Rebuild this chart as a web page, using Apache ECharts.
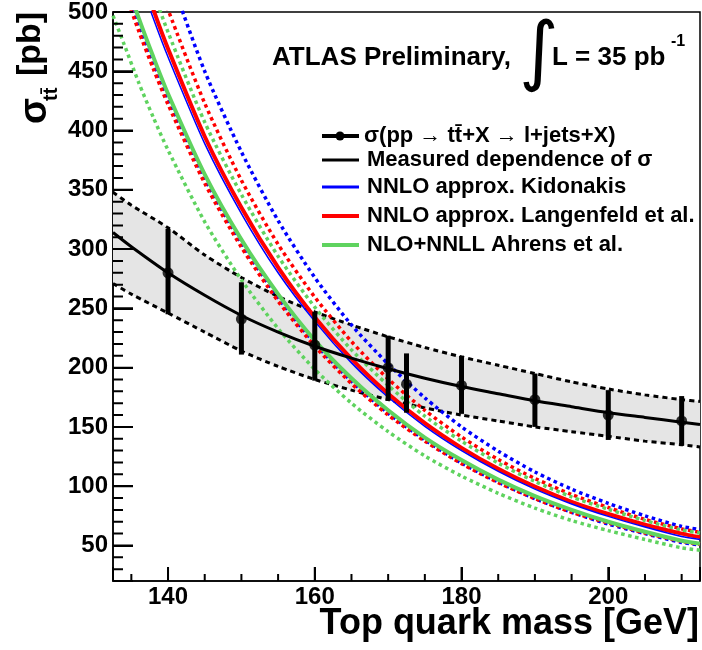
<!DOCTYPE html>
<html><head><meta charset="utf-8">
<script src="https://cdn.jsdelivr.net/npm/echarts@6/dist/echarts.min.js"></script>
<style>html,body{margin:0;padding:0;background:#fff}#c{width:702px;height:650px}</style>
</head><body><div id="c"></div>
<script>
// ---- data ----
const massGrid = [132.5,134,136,138,140,145,150,155,160,165,170,175,180,185,190,195,200,205,210,212.5];
const kidonakis     = [599,568,530,494.5,462,389,330,280,239,204,175,150.5,130,112.5,97.5,85,74.5,65.5,57.5,55];
const kidonakisUp   = [693,658,613,572,535,450,382,324,276,236,203,174.5,150,129.5,112,97.5,85.5,75,66,63.5];
const kidonakisDown = [553,525,490,457,427,359.5,305,259,220.5,188.5,161.5,139,119.5,103.5,89.5,78,68,60,52.5,50.5];
const langenfeld     = [608,577,538,502,469,395,335,284.5,242.5,207.4,178,153.1,132.3,114.6,99.6,86.8,76.5,67.5,60,57];
const langenfeldUp   = [651,617,576,537,502,423,358,304,259.5,222,190.5,164,141.5,122.5,106.5,93,82,72,64,61];
const langenfeldDown = [547,519,484,452,422,355.5,301.5,256,218,186.5,160,138,119,103,89.5,78,69,60.5,53.5,51];
const ahrens     = [559,531,495,462,431,363,308,262,223,191,164,141,122,105.5,91.6,80,70,61.5,54,51.5];
const ahrensUp   = [626,594,554,517,483,407,346,294,251,215,185,159,138,119.5,104,91,80.5,71,63,60.5];
const ahrensDown = [497,473,440.5,411,383.5,323,274,233,198.5,170,146,125.5,108.5,94,81.5,71,62.5,55,48,46];

const measMass = [132.5,135,140,145,150,155,160,165,170,175,180,185,190,195,200,205,210,212.5];
const measFit  = [314,302,280,261,244,230,218,208,199,191,184,178,172,167,162,158,154,152];
const bandUp   = [348,337,318,295,276,260,247,236,226,217,209,202,195,188,182,177,173,171.5];
const bandDown = [271,262,246,230,214,201,190,181,173,166,160,155,150,146,142,138,135,133];

const pointMass = [140,150,160,170,172.5,180,190,200,210];
const pointXsec = [280,241,219,200,186,185,173,160,155];
const pointErrUp   = [37,31,28,27,26,25,22,21,21];
const pointErrDown = [35,30,30,28,24,24,23,21,21];

// axis ranges, ticks and tick labels
const xRange = [132.5, 212.5];
const yRange = [20, 500];
const xMajorTicks = [140,160,180,200];
const xMinorTicks = [135,145,150,155,165,170,175,185,190,195,205,210];
const yMajorTicks = [50,100,150,200,250,300,350,400,450,500];
const yMinorTicks = [30,40,60,70,80,90,110,120,130,140,160,170,180,190,210,220,230,240,260,270,280,290,310,320,330,340,360,370,380,390,410,420,430,440,460,470,480,490];

const legendLabels = ['σ(pp → t\u0074\u0304+X → l+jets+X)','Measured dependence of σ','NNLO approx. Kidonakis','NNLO approx. Langenfeld et al.','NLO+NNLL Ahrens et al.'];

// ---- layout ----
const GRID = { left: 113, right: 2, top: 11, bottom: 69 };
const W = 702, H = 650;
const plotW = W - GRID.left - GRID.right, plotH = H - GRID.top - GRID.bottom;
const pxToX = px => px * (xRange[1] - xRange[0]) / plotW;
const pxToY = px => px * (yRange[1] - yRange[0]) / plotH;

const FONT = '"Liberation Sans", Arial, Helvetica, sans-serif';
const BLUE = '#0000ff', RED = '#ff0000', GREEN = '#5fd35f';
const pairs = (xs, ys) => xs.map((x, i) => [x, ys[i]]);

function curve(name, ys, color, width, dotted, z) {
  return {
    name, type: 'line', data: pairs(massGrid, ys), symbol: 'none', smooth: 0.25,
    lineStyle: { color, width, type: dotted ? [3.5, 3.5] : 'solid', cap: 'butt' }, z, clip: true
  };
}

// tick segments, broken with empty values
const tickSegs = [];
const xTick = (v, len) => { tickSegs.push([v, yRange[0]], [v, yRange[0] + pxToY(len)], [v, '-']); };
const yTick = (v, len) => { tickSegs.push([xRange[0], v], [xRange[0] + pxToX(len), v], ['-', v]); };
xMajorTicks.forEach(v => xTick(v, 14));
xMinorTicks.forEach(v => xTick(v, 7));
yMajorTicks.forEach(v => yTick(v, 20));
yMinorTicks.forEach(v => yTick(v, 10));

const chart = echarts.init(document.getElementById('c'), null, { renderer: 'canvas' });
const labelStyle = { color: '#000', fontSize: 24, fontWeight: 'bold', fontFamily: FONT };

const legendY = [136, 160, 187, 216, 245];
const legendStyles = [
  { color: '#000', width: 4, marker: true },
  { color: '#000', width: 3 },
  { color: BLUE, width: 3 },
  { color: RED, width: 4 },
  { color: GREEN, width: 4 }
];
const legendGraphics = [];
legendLabels.forEach((lab, i) => {
  const y = legendY[i], st = legendStyles[i];
  legendGraphics.push({ type: 'line', shape: { x1: 322, y1: y, x2: 359, y2: y }, style: { stroke: st.color, lineWidth: st.width }, z: 100 });
  if (st.marker) legendGraphics.push({ type: 'circle', shape: { cx: 340, cy: y, r: 4.5 }, style: { fill: '#000' }, z: 101 });
  legendGraphics.push({ type: 'text', x: i === 0 ? 364 : 367, y: y, style: { text: lab, fill: '#000', font: 'bold 22px ' + FONT, verticalAlign: 'middle', align: 'left' }, z: 100 });
});

const textGraphics = [
  { type: 'text', x: 272, y: 58, style: { text: 'ATLAS Preliminary,', fill: '#000', font: 'bold 26px ' + FONT, verticalAlign: 'middle' }, z: 100 },
  { type: 'text', x: 519, y: 56, style: { text: '∫', fill: '#000', font: '76px "DejaVu Sans"', verticalAlign: 'middle' }, z: 100 },
  { type: 'text', x: 552, y: 58, style: { text: 'L = 35 pb', fill: '#000', font: 'bold 26px ' + FONT, verticalAlign: 'middle' }, z: 100 },
  { type: 'text', x: 671, y: 42, style: { text: '-1', fill: '#000', font: 'bold 16px ' + FONT, verticalAlign: 'middle' }, z: 100 },
  { type: 'text', x: 699, y: 624, style: { text: 'Top quark mass [GeV]', fill: '#000', font: 'bold 36px ' + FONT, verticalAlign: 'middle', align: 'right' }, z: 100 },
  { type: 'text', x: 36, y: 124, rotation: Math.PI / 2, style: { text: 'σ', fill: '#000', font: 'bold 38px ' + FONT, verticalAlign: 'middle', align: 'left' }, z: 100 },
  { type: 'text', x: 51, y: 101, rotation: Math.PI / 2, style: { text: 't\u0074\u0304', fill: '#000', font: 'bold 20px ' + FONT, verticalAlign: 'middle', align: 'left' }, z: 100 },
  { type: 'text', x: 31, y: 76, rotation: Math.PI / 2, style: { text: '[pb]', fill: '#000', font: 'bold 34px ' + FONT, verticalAlign: 'middle', align: 'left' }, z: 100 }
];

const option = {
  animation: false,
  backgroundColor: '#fff',
  grid: Object.assign({ show: true, borderColor: '#000', borderWidth: 1.5 }, GRID),
  xAxis: {
    type: 'value', min: xRange[0], max: xRange[1], splitNumber: 4,
    axisLine: { show: true, onZero: false, lineStyle: { color: '#000', width: 1.5 } },
    axisTick: { show: true, inside: true, length: 14, lineStyle: { color: '#000', width: 2 } },
    axisLabel: Object.assign({ show: true, margin: 4, customValues: xMajorTicks }, labelStyle),
    splitLine: { show: false }
  },
  yAxis: {
    type: 'value', min: yRange[0], max: yRange[1], splitNumber: 10,
    axisLine: { show: true, onZero: false, lineStyle: { color: '#000', width: 1.5 } },
    axisTick: { show: true, inside: true, length: 20, lineStyle: { color: '#000', width: 2 } },
    axisLabel: Object.assign({ show: true, margin: 5, customValues: yMajorTicks }, labelStyle),
    splitLine: { show: false }
  },
  series: [
    {
      name: 'band', type: 'custom', z: 1, clip: true, data: [[measMass[0], bandUp[0]]],
      renderItem: (params, api) => {
        const pts = [];
        for (let i = 0; i < measMass.length; i++) pts.push(api.coord([measMass[i], bandUp[i]]));
        for (let i = measMass.length - 1; i >= 0; i--) pts.push(api.coord([measMass[i], bandDown[i]]));
        return { type: 'polygon', shape: { points: pts, smooth: 0 }, style: { fill: '#e5e5e5', stroke: null } };
      }
    },
    { name: 'bandUp', type: 'line', data: pairs(measMass, bandUp), symbol: 'none', smooth: 0.25, lineStyle: { color: '#000', width: 3, type: [5, 4] }, z: 2 },
    { name: 'bandDown', type: 'line', data: pairs(measMass, bandDown), symbol: 'none', smooth: 0.25, lineStyle: { color: '#000', width: 3, type: [5, 4] }, z: 2 },
    curve('kidUp', kidonakisUp, BLUE, 3.5, true, 3),
    curve('kidDown', kidonakisDown, BLUE, 3.5, true, 3),
    curve('lanUp', langenfeldUp, RED, 3.5, true, 3),
    curve('lanDown', langenfeldDown, RED, 3.5, true, 3),
    curve('ahrUp', ahrensUp, GREEN, 3.5, true, 3),
    curve('ahrDown', ahrensDown, GREEN, 3.5, true, 3),
    curve('Langenfeld', langenfeld, RED, 4, false, 4),
    curve('Kidonakis', kidonakis, BLUE, 1.5, false, 4),
    curve('Ahrens', ahrens, GREEN, 4, false, 4),
    { name: 'fit', type: 'line', data: pairs(measMass, measFit), symbol: 'none', smooth: 0.25, lineStyle: { color: '#000', width: 3 }, z: 5 },
    {
      name: 'errors', type: 'custom', z: 6,
      data: pointMass.map((m, i) => [m, pointXsec[i] - pointErrDown[i], pointXsec[i] + pointErrUp[i]]),
      renderItem: (params, api) => {
        const lo = api.coord([api.value(0), api.value(1)]);
        const hi = api.coord([api.value(0), api.value(2)]);
        return { type: 'line', shape: { x1: lo[0], y1: lo[1], x2: hi[0], y2: hi[1] }, style: { stroke: '#000', lineWidth: 5 } };
      }
    },
    { name: 'points', type: 'scatter', data: pairs(pointMass, pointXsec), symbol: 'circle', symbolSize: 11, itemStyle: { color: '#000' }, z: 7 },
    { name: 'ticks', type: 'line', data: tickSegs, symbol: 'none', connectNulls: false, clip: false, lineStyle: { color: '#000', width: 2 }, z: 8 }
  ],
  graphic: textGraphics.concat(legendGraphics)
};
chart.setOption(option);
</script>
</body></html>
